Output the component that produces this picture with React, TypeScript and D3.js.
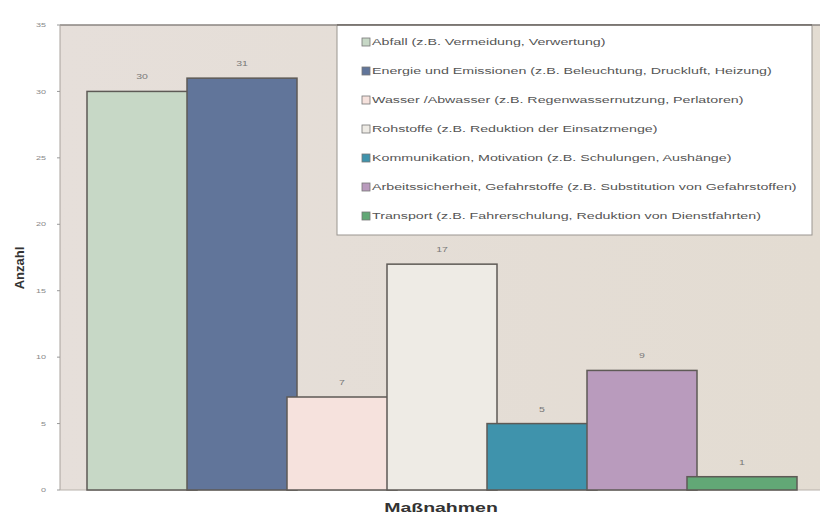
import { scaleBand, scaleLinear } from "d3";

const categories = [
  "Abfall (z.B. Vermeidung, Verwertung)",
  "Energie und Emissionen (z.B. Beleuchtung, Druckluft, Heizung)",
  "Wasser /Abwasser (z.B. Regenwassernutzung, Perlatoren)",
  "Rohstoffe (z.B. Reduktion der Einsatzmenge)",
  "Kommunikation, Motivation (z.B. Schulungen, Aushänge)",
  "Arbeitssicherheit, Gefahrstoffe (z.B. Substitution von Gefahrstoffen)",
  "Transport (z.B. Fahrerschulung, Reduktion von Dienstfahrten)",
];
const counts = [30, 31, 7, 17, 5, 9, 1];
const colors = ["#c7d8c6", "#61759a", "#f6e2dd", "#eeebe5", "#3f93ac", "#b99bbd", "#62a876"];
const yTicks = [0, 5, 10, 15, 20, 25, 30, 35];

const W = 825;
const H = 518;
const plot = { left: 60, right: 820, top: 25, bottom: 490 };
// the source image is stretched horizontally, so text is widened
const stretch = 1.5;

export default function App() {
  const x = scaleBand<string>()
    .domain(categories)
    .range([87, 787])
    .paddingInner(0)
    .paddingOuter(0);
  const y = scaleLinear().domain([0, 35]).range([plot.bottom, plot.top]);
  const barW = x.bandwidth() * 1.1; // bars overlap a little

  return (
    <svg
      width={W}
      height={H}
      style={{ position: "absolute", left: 0, top: 0, background: "#fff" }}
      fontFamily="Liberation Sans, Arial, sans-serif"
    >
      <defs>
        <linearGradient id="bg" x1="0" x2="1" y1="0" y2="0">
          <stop offset="0" stopColor="#e6dfda" />
          <stop offset="1" stopColor="#e3dcd2" />
        </linearGradient>
      </defs>
      {/* plot area */}
      <rect
        x={plot.left}
        y={plot.top}
        width={plot.right - plot.left}
        height={plot.bottom - plot.top}
        fill="url(#bg)"
      />
      <line x1={plot.left} x2={plot.right} y1={plot.top} y2={plot.top} stroke="#8a8580" strokeWidth={1.5} />
      <line x1={plot.left} x2={plot.left} y1={plot.top} y2={plot.bottom} stroke="#a8a29c" strokeWidth={1} />
      <line x1={plot.left} x2={plot.right} y1={plot.bottom} y2={plot.bottom} stroke="#b8b2ac" strokeWidth={1} />

      {/* y axis ticks */}
      {yTicks.map((t) => (
        <g key={t}>
          <line x1={plot.left - 3} x2={plot.left} y1={y(t)} y2={y(t)} stroke="#999" />
          <text
            transform={`translate(${plot.left - 14}, ${y(t)}) scale(${stretch}, 1)`}
            dy="0.35em"
            textAnchor="end"
            fontSize={6}
            fill="#888"
          >
            {t}
          </text>
        </g>
      ))}

      {/* bars */}
      {categories.map((c, i) => (
        <g key={c}>
          <rect
            x={x(c)!}
            y={y(counts[i])}
            width={barW}
            height={plot.bottom - y(counts[i])}
            fill={colors[i]}
            stroke="#5e5a56"
            strokeWidth={1.5}
          />
          <text
            transform={`translate(${x(c)! + barW / 2}, ${y(counts[i]) - 12}) scale(${stretch}, 1)`}
            textAnchor="middle"
            fontSize={7}
            fill="#777"
          >
            {counts[i]}
          </text>
        </g>
      ))}

      {/* legend */}
      <rect x={337} y={25} width={475} height={210} fill="#fff" stroke="#9a9590" strokeWidth={1} />
      <line x1={337} x2={812} y1={25} y2={25} stroke="#6f6a66" strokeWidth={1.5} />
      {categories.map((c, i) => (
        <g key={"l" + c} transform={`translate(362, ${42 + i * 29})`}>
          <rect x={0} y={-4} width={8} height={8} fill={colors[i]} stroke="#777" strokeWidth={0.8} />
          <text
            transform={`translate(10, 0) scale(1.55, 1)`}
            dy="0.35em"
            fontSize={9.2}
            fill="#555"
          >
            {c}
          </text>
        </g>
      ))}

      {/* axis titles */}
      <text
        transform="translate(24, 268) rotate(-90)"
        textAnchor="middle"
        fontSize={13}
        fontWeight="bold"
        fill="#333"
      >
        Anzahl
      </text>
      <text
        transform={`translate(441, 512) scale(${stretch}, 1)`}
        textAnchor="middle"
        fontSize={13}
        fontWeight="bold"
        fill="#333"
      >
        Maßnahmen
      </text>
    </svg>
  );
}
